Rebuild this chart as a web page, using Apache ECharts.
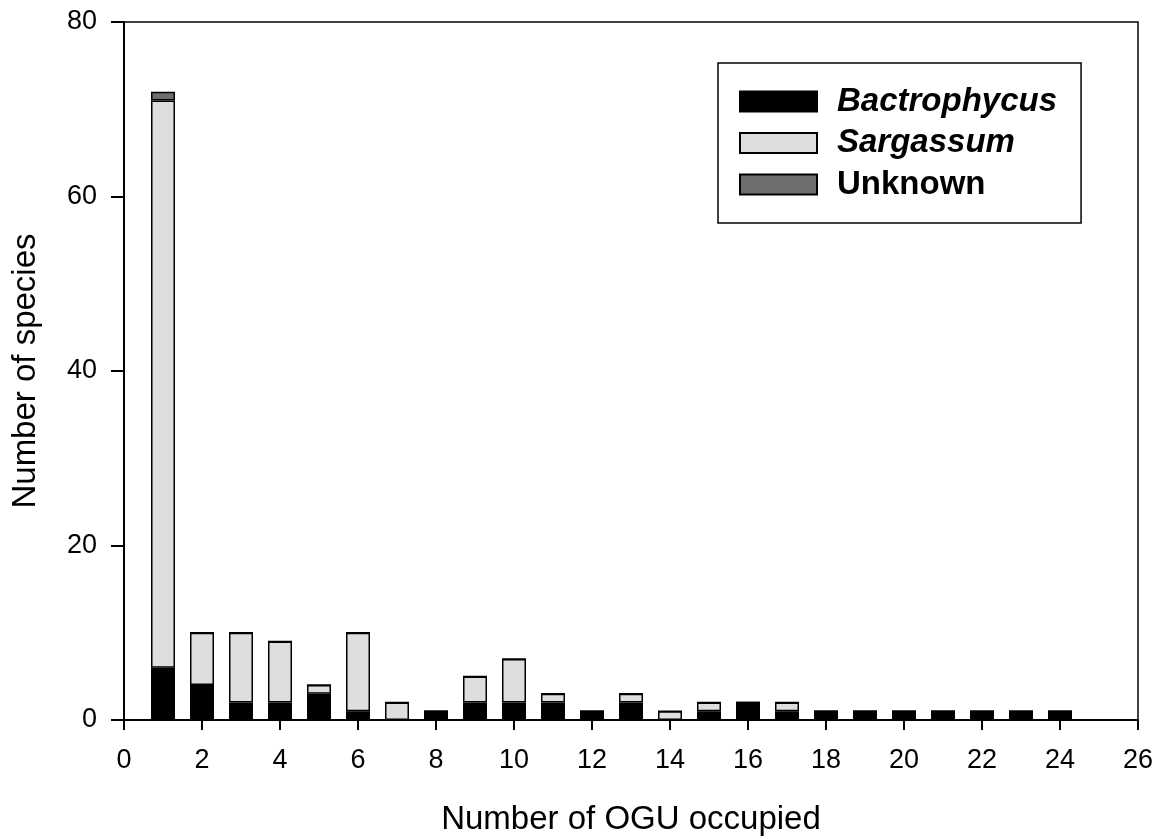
<!DOCTYPE html>
<html><head><meta charset="utf-8">
<script src="https://cdn.jsdelivr.net/npm/echarts@6/dist/echarts.min.js"></script>
<style>html,body{margin:0;padding:0;background:#fff}#c{width:1164px;height:839px}</style>
</head><body><div id="c"></div>
<script>
const xCategories = ['0','1','2','3','4','5','6','7','8','9','10','11','12','13','14','15','16','17','18','19','20','21','22','23','24','25','26'];
const ogu = [1,2,3,4,5,6,7,8,9,10,11,12,13,14,15,16,17,18,19,20,21,22,23,24];
const bactrophycus = [6,4,2,2,3,1,0,1,2,2,2,1,2,0,1,2,1,1,1,1,1,1,1,1];
const sargassum    = [65,6,8,7,1,9,2,0,3,5,1,0,1,1,1,0,1,0,0,0,0,0,0,0];
const unknown      = [1,0,0,0,0,0,0,0,0,0,0,0,0,0,0,0,0,0,0,0,0,0,0,0];
const yTicks = [0,20,40,60,80];

const font = '"Liberation Sans", Arial, sans-serif';
function aligned(v){
  return xCategories.map(c => { const i = ogu.indexOf(Number(c)); return i < 0 ? '-' : v[i]; });
}
function bar(name, data, color){
  return { name, type:'bar', stack:'s', barWidth:24, data:aligned(data),
    itemStyle:{color, borderColor:'#000', borderWidth:1.5} };
}
const chart = echarts.init(document.getElementById('c'), null, {renderer:'canvas'});
chart.setOption({
  animation:false,
  grid:{left:124, right:26, top:22, bottom:119, show:true, borderColor:'#000', borderWidth:1.5,
    containLabel:false, outerBoundsMode:'none'},
  xAxis:{type:'category', data:xCategories, boundaryGap:false,
    name:'Number of OGU occupied', nameLocation:'middle', nameGap:83,
    nameTextStyle:{fontFamily:font, fontSize:33, color:'#000'},
    axisLine:{lineStyle:{color:'#000', width:2}},
    axisTick:{show:true, interval:1, length:10, lineStyle:{color:'#000', width:2}},
    axisLabel:{interval:1, fontFamily:font, fontSize:27, color:'#000', margin:27},
    splitLine:{show:false}},
  yAxis:{type:'value', min:0, max:80, interval:20,
    name:'Number of species', nameLocation:'middle', nameGap:82,
    nameTextStyle:{fontFamily:font, fontSize:33, color:'#000'},
    axisLine:{show:true, lineStyle:{color:'#000', width:2}},
    axisTick:{show:true, length:13, lineStyle:{color:'#000', width:2}},
    axisLabel:{fontFamily:font, fontSize:27, color:'#000', margin:27,
      formatter:v=> yTicks.includes(v)? String(v):''},
    splitLine:{show:false}},
  legend:{orient:'vertical', left:718, top:63, backgroundColor:'#fff',
    borderColor:'#000', borderWidth:1.5, icon:'rect',
    padding:[22,24,22,21], itemWidth:77, itemHeight:20, itemGap:8.5,
    textStyle:{fontFamily:font, fontSize:33, fontWeight:'bold', color:'#000', lineHeight:33, padding:[0,0,0,15]},
    data:[
      {name:'Bactrophycus', textStyle:{fontStyle:'italic'}},
      {name:'Sargassum', textStyle:{fontStyle:'italic'}},
      {name:'Unknown'}
    ]},
  series:[
    bar('Bactrophycus', bactrophycus, '#000'),
    bar('Sargassum', sargassum, '#dedede'),
    bar('Unknown', unknown, '#6e6e6e')
  ]
});
</script></body></html>
